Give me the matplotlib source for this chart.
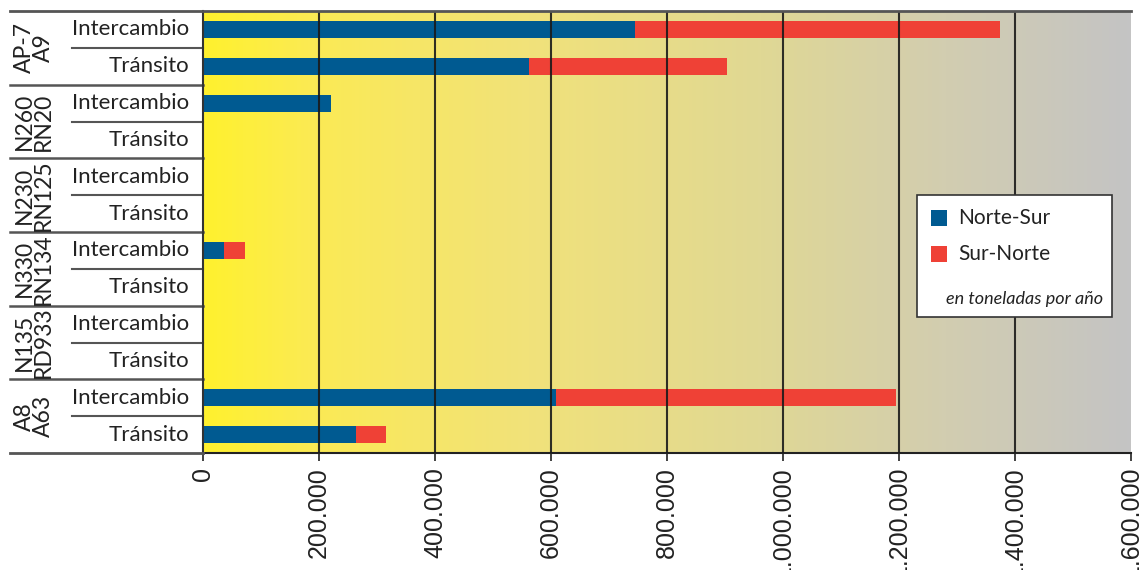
import matplotlib
matplotlib.use("Agg")
import matplotlib.pyplot as plt
import matplotlib.transforms as mtransforms
from matplotlib.colors import LinearSegmentedColormap
from matplotlib.patches import Rectangle
import numpy as np

plt.rcParams['font.family'] = ['Lato', 'DejaVu Sans']

# ---- data ----
groups = ["AP-7\nA9", "N260\nRN20", "N230\nRN125", "N330\nRN134", "N135\nRD933", "A8\nA63"]
subs = ["Intercambio", "Tránsito"]
norte_sur = [745000, 562000, 221000, 0, 0, 0, 36000, 0, 0, 0, 609000, 264000]
sur_norte = [629000, 341000, 0, 0, 0, 0, 36000, 0, 0, 0, 586000, 52000]
xticks = [0, 200000, 400000, 600000, 800000, 1000000, 1200000, 1400000, 1600000]
xticklabels = ["0", "200.000", "400.000", "600.000", "800.000", "1.000.000",
               "1.200.000", "1.400.000", "1.600.000"]
series_names = ["Norte-Sur", "Sur-Norte"]
unit_note = "en toneladas por año"

BLUE = "#005A91"
RED = "#EF4136"
TXT = "#222222"

W, H = 1141, 570
fig = plt.figure(figsize=(W / 100, H / 100), dpi=100)
ax = fig.add_axes([203 / W, 1 - 453 / H, (1131 - 203) / W, (453 - 11) / H])

n = len(norte_sur)
ypos = np.arange(n)
ax.set_xlim(0, 1600000)
ax.set_ylim(n - 0.5, -0.5)

# background gradient
cmap = LinearSegmentedColormap.from_list(
    "bg", [(0.0, "#FFF12E"), (0.12, "#FBEA55"), (0.35, "#F1E27A"),
           (0.6, "#E0D894"), (0.8, "#D2CDB0"), (1.0, "#C4C4C4")])
grad = np.linspace(0, 1, 256).reshape(1, -1)
ax.imshow(grad, aspect="auto", cmap=cmap, extent=[0, 1600000, n - 0.5, -0.5],
          zorder=0)

bh = 0.46
ax.barh(ypos, norte_sur, height=bh, color=BLUE, zorder=2, label=series_names[0])
ax.barh(ypos, sur_norte, left=norte_sur, height=bh, color=RED, zorder=2,
        label=series_names[1])

for xt in xticks[1:-1]:
    ax.axvline(xt, color="#1a1a1a", lw=1.5, alpha=0.9, zorder=3)

ax.set_xticks(xticks)
ax.set_xticklabels(xticklabels, rotation=90, fontsize=18,
                   family=['Liberation Sans', 'DejaVu Sans'], va="top",
                   color=TXT)
ax.tick_params(axis="x", length=6, width=1.2, color="#222222", pad=4)
ax.set_yticks([])

for s in ["top", "right"]:
    ax.spines[s].set_visible(False)
ax.spines["left"].set_color("#333333")
ax.spines["left"].set_linewidth(1.5)
ax.spines["bottom"].set_color("#222222")
ax.spines["bottom"].set_linewidth(1.5)

trans = mtransforms.blended_transform_factory(ax.transAxes, ax.transData)
x_left = (10 - 203) / 928
x_sub = (72 - 203) / 928

# top line across
ax.plot([x_left, 1.0], [-0.5, -0.5], transform=trans, color="#555555", lw=2,
        clip_on=False, zorder=5)
# bottom line left part
ax.plot([x_left, 0], [n - 0.5, n - 0.5], transform=trans, color="#555555", lw=2,
        clip_on=False, zorder=5)

for gi, g in enumerate(groups):
    y0 = gi * 2 - 0.5
    if gi > 0:
        ax.plot([x_left, 0], [y0, y0], transform=trans, color="#555555", lw=1.8,
                clip_on=False)
    ax.plot([x_sub, 0], [y0 + 1, y0 + 1], transform=trans, color="#555555",
            lw=1.5, clip_on=False)
    ax.text((34 - 203) / 928, y0 + 1, g, transform=trans, rotation=90,
            ha="center", va="center", fontsize=16.5, linespacing=0.9,
            color=TXT)
    for si, s in enumerate(subs):
        ax.text((189 - 203) / 928, gi * 2 + si, s, transform=trans,
                ha="right", va="center", fontsize=16, color=TXT)

# legend box (manual)
fig.patches.append(Rectangle((917 / W, 1 - 317 / H), (1112 - 917) / W,
                             (317 - 195) / H, transform=fig.transFigure,
                             facecolor="white", edgecolor="#333333", lw=1.2,
                             zorder=10))
for i, (name, col) in enumerate(zip(series_names, [BLUE, RED])):
    yc = 218 + i * 36
    fig.patches.append(Rectangle((931 / W, 1 - (yc + 8) / H), 16 / W, 16 / H,
                                 transform=fig.transFigure, facecolor=col,
                                 edgecolor="none", zorder=11))
    fig.text(958 / W, 1 - yc / H, name, ha="left", va="center", fontsize=15,
             color=TXT, zorder=12)
fig.text(946 / W, 1 - 299 / H, unit_note, ha="left", va="center", fontsize=13,
         style="italic", color=TXT, zorder=12)

fig.savefig("out.png", dpi=100)
